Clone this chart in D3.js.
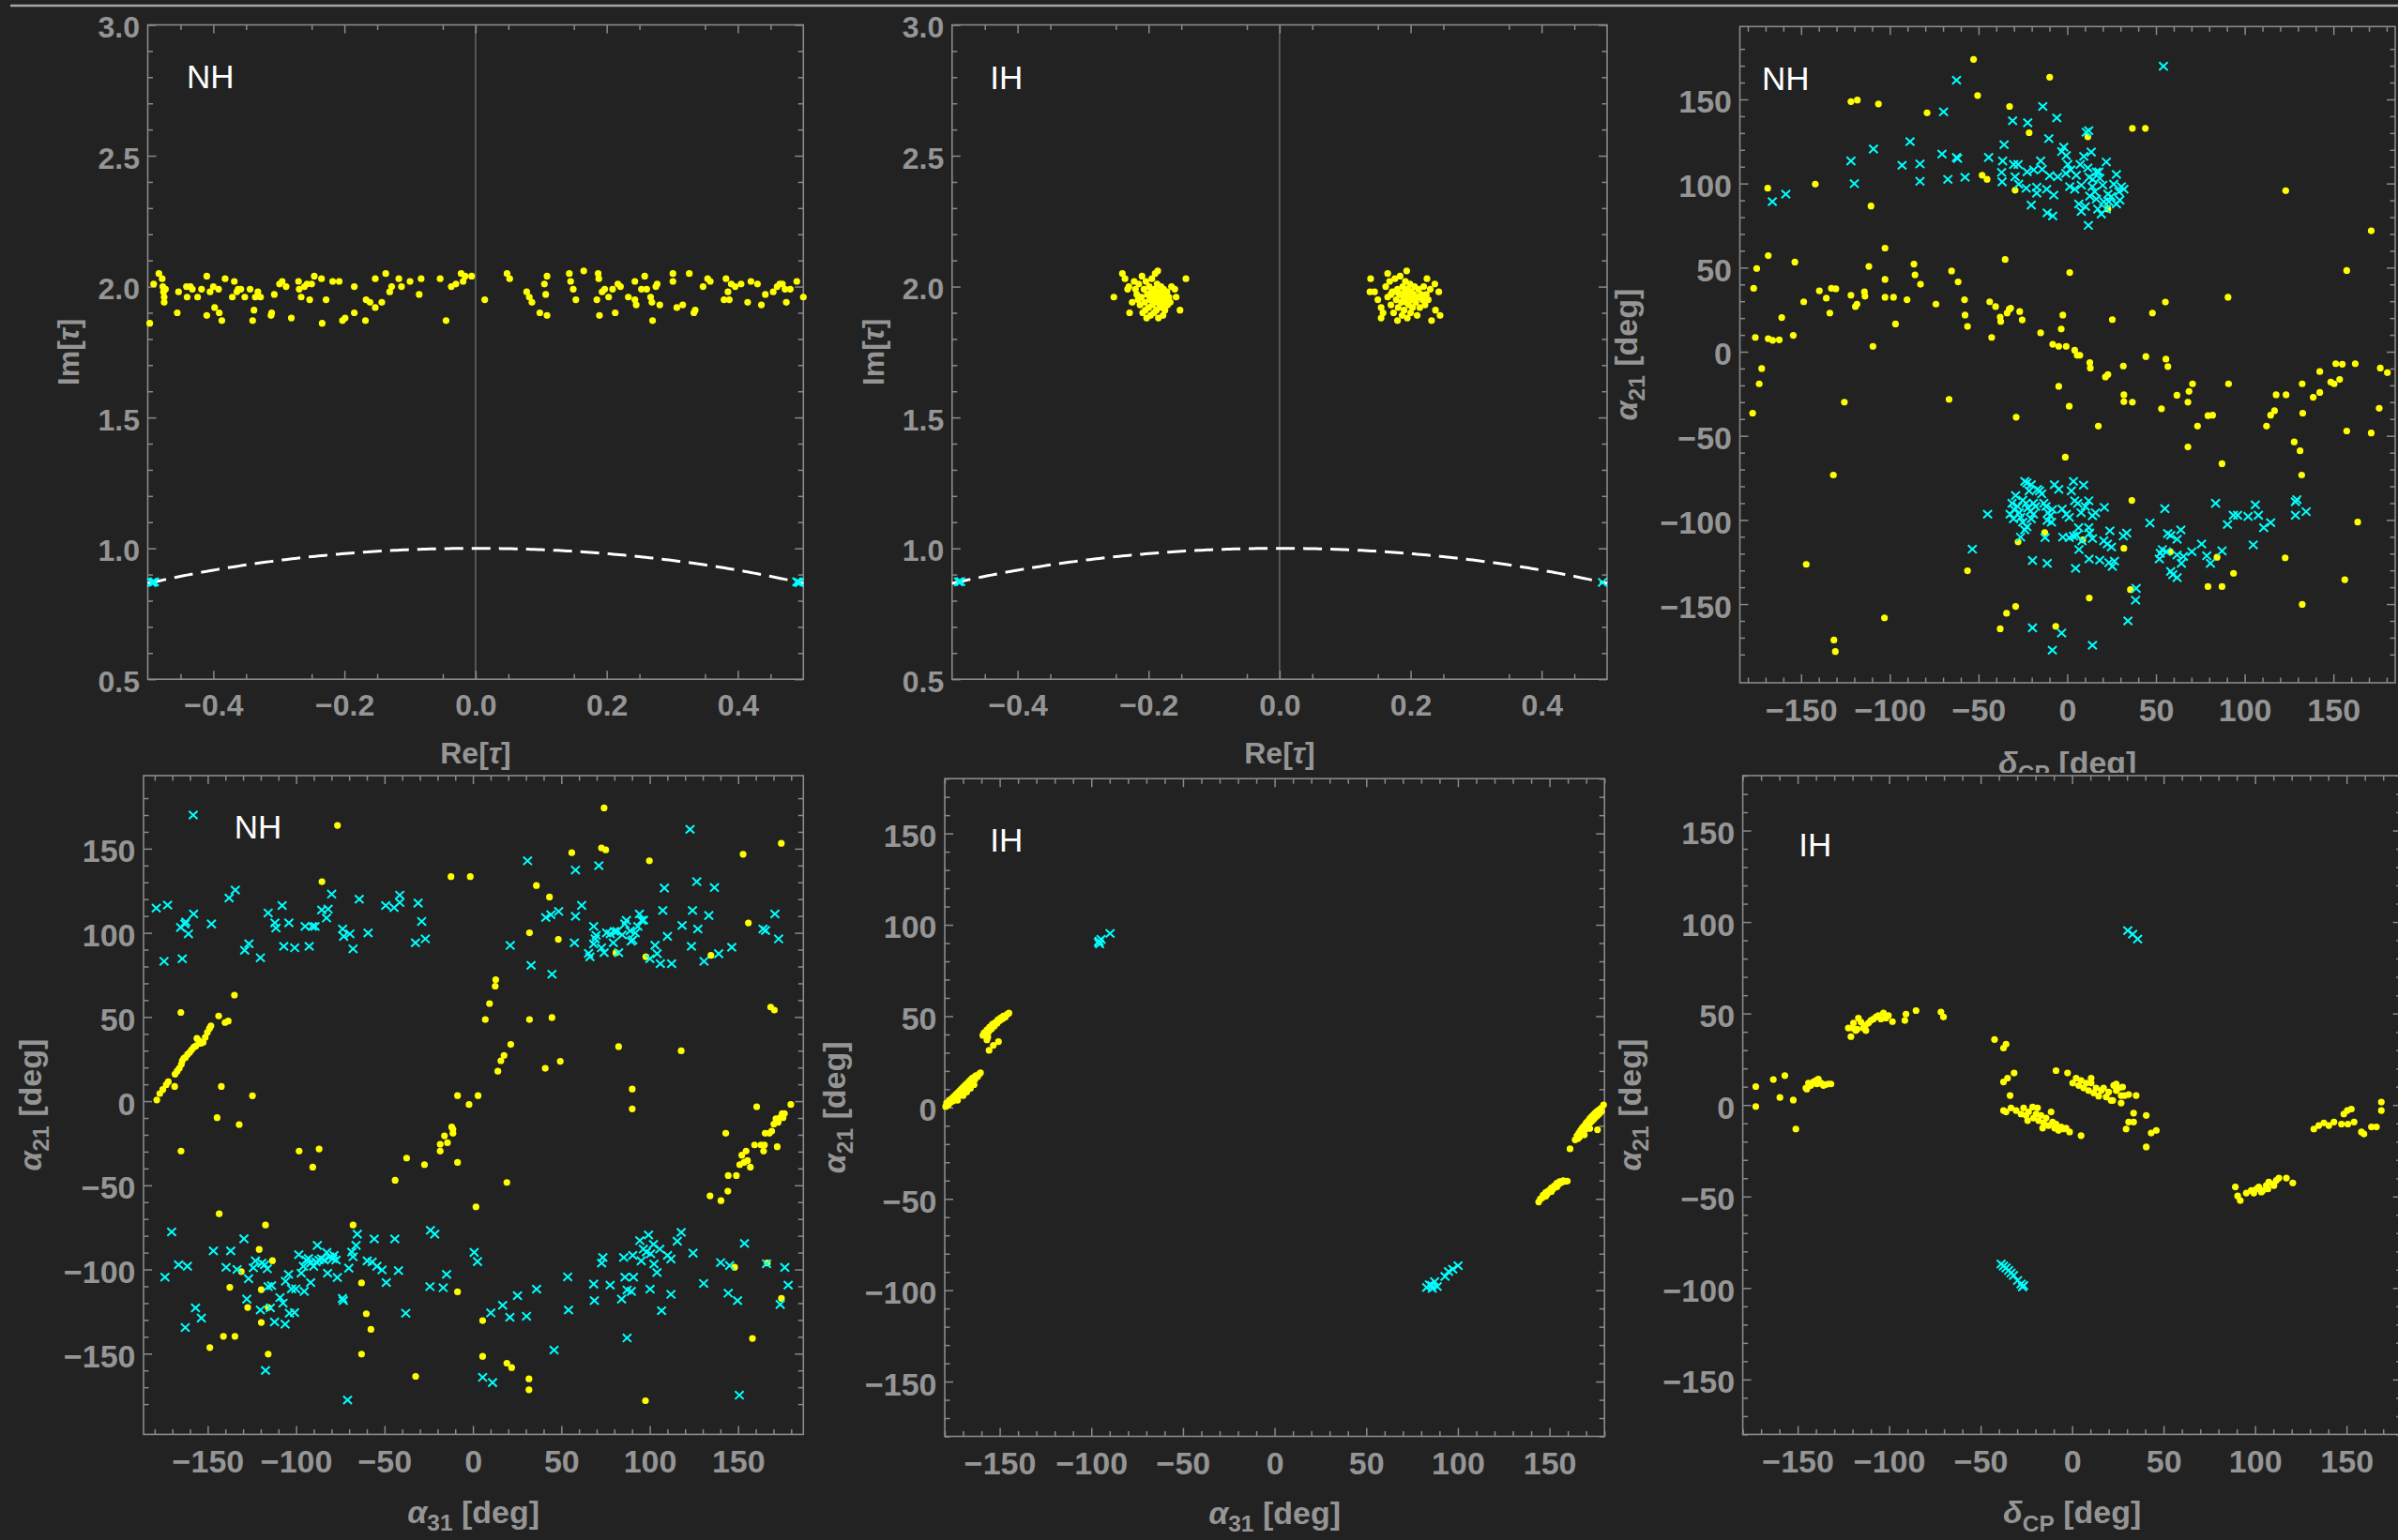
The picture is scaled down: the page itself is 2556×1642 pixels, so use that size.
<!DOCTYPE html>
<html>
<head>
<meta charset="utf-8">
<script src="https://cdn.jsdelivr.net/npm/d3@7"></script>
<style>
  html, body { margin: 0; padding: 0; background: #222222; }
  svg { display: block; }
</style>
</head>
<body>
<svg id="chart" width="2556" height="1642"></svg>
<script>
// ---------- tick values ----------
const reTauTicks = [-0.4, -0.2, 0.0, 0.2, 0.4];
const imTauTicks = [0.5, 1.0, 1.5, 2.0, 2.5, 3.0];
const degTicks = [-150, -100, -50, 0, 50, 100, 150];

// ---------- tau plane, normal hierarchy ----------
const tauNH_yellow = [
  [-0.497,1.86],[-0.491,2.01],[-0.483,2.05],[-0.478,2.03],[-0.477,2.00],[-0.476,1.98],[-0.473,1.99],[-0.475,1.96],[-0.475,1.94],
  [-0.455,1.90],[-0.453,1.98],[-0.441,2.00],[-0.435,2.00],[-0.440,1.96],[-0.432,1.99],[-0.424,1.96],[-0.418,1.99],[-0.410,2.04],
  [-0.410,1.89],[-0.405,1.98],[-0.400,2.00],[-0.392,1.99],[-0.398,1.92],[-0.391,1.90],[-0.387,1.87],[-0.382,2.03],[-0.371,1.96],
  [-0.368,2.02],[-0.364,1.98],[-0.362,1.99],[-0.358,1.99],[-0.352,1.96],[-0.344,1.99],[-0.340,1.87],[-0.338,1.91],[-0.336,1.96],
  [-0.332,1.98],[-0.328,1.96],[-0.311,1.90],[-0.312,1.89],[-0.307,1.97],[-0.299,2.01],[-0.295,2.02],[-0.289,2.00],[-0.281,1.88],
  [-0.270,2.02],[-0.269,1.99],[-0.266,1.96],[-0.261,2.00],[-0.257,2.01],[-0.253,1.95],[-0.250,2.01],[-0.246,2.04],[-0.235,2.03],
  [-0.234,1.86],[-0.228,1.95],[-0.218,2.02],[-0.208,2.02],[-0.203,1.87],[-0.199,1.88],[-0.185,1.90],[-0.185,2.00],[-0.168,1.87],
  [-0.167,1.95],[-0.161,1.94],[-0.153,1.92],[-0.153,2.03],[-0.143,1.94],[-0.137,2.05],[-0.131,1.98],[-0.128,2.00],[-0.117,2.03],
  [-0.113,2.00],[-0.100,2.02],[-0.086,1.97],[-0.083,2.03],[-0.054,2.03],[-0.045,1.87],[-0.037,2.00],[-0.030,2.01],[-0.022,2.05],
  [-0.019,2.02],[-0.016,2.04],[-0.006,2.04],[0.014,1.95],[0.048,2.05],[0.052,2.03],[0.078,1.98],[0.082,1.96],[0.086,1.94],
  [0.098,1.90],[0.105,2.01],[0.107,1.97],[0.109,1.89],[0.109,2.04],[0.143,2.05],[0.145,2.02],[0.149,1.99],[0.153,1.95],
  [0.165,2.06],[0.185,1.95],[0.187,2.05],[0.188,2.03],[0.189,1.89],[0.193,1.98],[0.197,1.99],[0.203,1.96],[0.209,1.99],
  [0.213,1.90],[0.217,2.01],[0.221,2.00],[0.233,1.96],[0.243,2.02],[0.243,1.95],[0.245,1.93],[0.253,1.99],[0.258,2.04],
  [0.261,1.99],[0.267,1.96],[0.269,1.94],[0.270,1.87],[0.275,2.00],[0.277,2.01],[0.281,1.93],[0.301,2.05],[0.301,2.02],
  [0.307,1.92],[0.316,1.93],[0.326,2.05],[0.333,1.90],[0.335,1.91],[0.347,2.00],[0.354,2.03],[0.358,2.02],[0.379,1.95],
  [0.382,2.03],[0.385,1.98],[0.387,1.95],[0.390,2.01],[0.396,2.00],[0.405,2.01],[0.415,1.94],[0.420,2.02],[0.430,2.01],
  [0.436,1.93],[0.442,1.97],[0.454,1.98],[0.460,2.00],[0.464,2.01],[0.468,2.01],[0.472,1.99],[0.474,1.94],[0.480,1.99],
  [0.490,2.02],[0.500,1.96]
];
const tauNH_cyan = [[-0.494,0.869],[-0.492,0.871],[-0.490,0.872],[0.490,0.872],[0.492,0.871],[0.494,0.869]];

// ---------- tau plane, inverted hierarchy ----------
const tauIH_yellow = [
  [-0.253,1.96],[-0.240,2.05],[-0.236,2.03],[-0.230,2.00],[-0.232,1.99],[-0.229,1.90],[-0.225,1.94],[-0.143,2.03],[-0.152,1.91],
  [-0.158,1.96],[-0.160,1.99],[-0.165,2.00],[-0.170,1.95],[-0.178,1.89],[-0.186,2.06],[-0.190,2.05],
  [-0.222,2.02],[-0.218,1.97],[-0.215,2.01],[-0.213,1.93],[-0.211,1.96],[-0.209,1.90],[-0.207,1.99],[-0.206,1.94],[-0.204,2.02],
  [-0.203,1.88],[-0.202,1.97],[-0.200,1.92],[-0.199,2.00],[-0.198,1.95],[-0.197,1.89],[-0.196,1.98],[-0.195,2.03],[-0.194,1.93],
  [-0.193,1.96],[-0.192,1.90],[-0.191,1.99],[-0.190,1.94],[-0.189,1.97],[-0.188,1.91],[-0.187,2.01],[-0.186,1.95],[-0.185,1.88],
  [-0.184,1.98],[-0.183,1.93],[-0.182,1.96],[-0.181,2.00],[-0.180,1.92],[-0.179,1.97],[-0.178,1.95],[-0.177,1.99],[-0.176,1.94],
  [-0.175,1.91],[-0.174,1.97],[-0.172,1.98],[-0.171,1.93],[-0.169,1.96],[-0.167,1.94],[-0.210,2.04],[-0.216,1.95],[-0.220,1.99],
  [-0.205,1.91],[-0.200,1.97],[-0.195,1.96],[-0.190,1.96],[-0.185,1.97],
  [0.139,2.03],[0.138,1.98],[0.145,1.98],[0.150,1.95],[0.155,1.92],[0.158,1.90],[0.165,2.05],[0.194,2.06],[0.225,2.03],
  [0.237,2.01],[0.243,1.98],[0.238,1.91],[0.245,1.89],[0.232,1.87],[0.180,1.87],[0.155,1.88],
  [0.162,2.00],[0.165,1.96],[0.168,2.02],[0.170,1.93],[0.172,1.98],[0.174,1.90],[0.176,2.03],[0.178,1.95],[0.180,1.99],
  [0.181,1.92],[0.183,1.97],[0.184,2.04],[0.186,1.94],[0.187,1.89],[0.188,2.00],[0.189,1.96],[0.190,1.91],[0.191,1.98],
  [0.192,2.02],[0.193,1.94],[0.194,1.97],[0.195,1.88],[0.196,1.99],[0.197,1.93],[0.198,1.96],[0.199,2.01],[0.200,1.90],
  [0.201,1.98],[0.202,1.95],[0.203,1.92],[0.205,1.97],[0.206,2.00],[0.208,1.94],[0.210,1.89],[0.211,1.96],[0.212,1.99],
  [0.214,1.92],[0.216,1.97],[0.218,1.95],[0.220,2.00],[0.222,1.93],[0.224,1.97],[0.227,1.95],[0.230,1.99],[0.185,1.97],
  [0.190,1.95],[0.195,1.96],[0.200,1.97],[0.176,1.98],[0.170,1.97]
];
const tauIH_cyan = [[-0.490,0.872],[-0.487,0.873],[0.493,0.870]];

// ---------- delta_CP vs alpha_21, normal hierarchy ----------
const dcpNH_yellow = [
  [-52.8,173.8],[-50.5,152.3],[-9.9,163.2],[-79.0,142.0],[-106.4,147.3],[-121.9,148.7],[-118.3,149.6],[-48.0,104.9],[-45.2,102.5],
  [-32.5,145.8],[-21.5,130.2],[11.6,127.8],[36.7,132.8],[44.0,132.8],[-29.4,96.0],[123.1,95.7],[22.9,84.8],[171.3,71.9],
  [-168.8,97.2],[-142.0,99.6],[-110.6,86.6],[-175.0,49.5],[-168.5,57.1],[-153.5,53.3],[-176.7,37.7],
  [-175.8,8.5],[-168.5,7.7],[-166.0,6.8],[-162.3,7.1],[-177.3,-36.5],[-173.6,-19.1],[-172.2,-10.0],[-160.9,20.3],[-154.4,9.7],
  [-148.5,29.7],[-139.7,36.2],[-135.8,31.8],[-133.8,23.0],[-132.9,37.7],[-130.4,37.4],[-125.6,-30.0],[-121.9,33.6],[-119.4,26.8],
  [-118.5,28.3],[-114.3,35.6],[-114.0,33.0],[-111.8,50.7],[-109.5,3.2],[-102.7,61.6],[-102.7,43.0],[-102.7,32.4],[-97.9,32.4],
  [-96.8,16.5],[-90.3,30.9],[-86.4,52.1],[-85.8,45.7],[-82.7,40.1],[-74.0,28.3],[-66.6,-28.3],[-65.2,48.0],[-61.5,41.5],
  [-57.9,30.9],[-57.6,21.8],[-56.2,15.0],[-43.7,29.7],[-42.6,8.5],[-40.4,26.8],[-37.8,20.6],[-37.5,18.0],[-35.0,54.8],
  [-33.9,23.0],[-32.7,25.3],[-31.9,25.9],[-26.8,23.9],[-25.4,18.9],[-28.8,-38.9],[-15.0,11.2],[-8.2,4.4],[-4.8,3.2],
  [-4.8,-20.6],[-3.4,13.5],[-2.5,21.8],[-0.6,3.2],[-1.1,-62.7],[1.1,-32.4],[1.4,47.1],[4.2,0.9],[5.6,-2.1],[7.1,-2.1],
  [12.7,-6.5],[13.0,-9.7],[17.5,-44.2],[21.5,-15.0],[22.9,-13.5],[25.4,19.1],[31.6,-8.5],[31.9,-25.6],[31.9,-29.7],
  [36.7,-30.0],[44.3,-2.9],[53.1,-33.9],[55.3,29.5],[55.6,-4.4],[56.7,-8.8],[48.0,23.0],[61.8,-25.9],[68.0,-30.0],
  [68.0,-56.6],[68.6,-23.6],[70.6,-19.1],[73.4,-44.2],[79.3,-38.0],[81.9,-37.7],[87.2,-66.6],[90.9,-19.1],[90.6,32.4],
  [112.3,-44.2],[114.6,-37.7],[116.8,-35.1],[117.7,-25.6],[123.3,-25.6],[127.9,-53.6],[131.2,-58.9],[132.1,-73.3],
  [132.4,-19.1],[132.7,-36.5],[138.6,-27.1],[142.3,-24.2],[142.3,-11.8],[148.5,-18.0],[150.4,-19.1],[151.3,-7.1],
  [153.5,-16.5],[155.0,-7.4],[157.5,48.3],[157.5,-47.1],[162.3,-7.1],[171.3,-48.3],[176.4,-9.7],[180.4,-12.4],[175.8,-33.6],
  [163.7,-101.3],[156.4,-135.5],[132.4,-150.2],[122.8,-122.5],[93.7,-131.7],[87.2,-139.6],[84.4,-122.2],[79.3,-139.6],
  [58.1,-119.0],[36.4,-88.4],[35.6,-141.4],[31.9,-116.9],[12.4,-146.4],[8.7,-111.9],[-6.5,-163.2],[-29.1,-151.4],
  [-34.2,-155.5],[-37.8,-164.7],[-12.7,-107.5],[-27.7,-113.1],[-56.2,-130.2],[-103.0,-158.2],[-131.5,-171.4],[-130.7,-178.2],
  [-147.1,-126.4],[-131.8,-73.3]
];
const dcpNH_cyan = [
  [-62.4,161.4],[-69.7,142.6],[-88.6,124.9],[-109.2,120.5],[-121.9,113.4],[-120.0,99.9],[-93.1,110.8],[-83.0,111.6],[-83.0,101.3],
  [-70.6,117.5],[-67.3,102.5],[-62.4,115.5],[-61.8,114.9],[-57.6,103.7],[-44.3,115.5],[-36.4,113.4],[-37.0,106.6],[-35.6,123.1],
  [-30.8,137.3],[-22.3,136.1],[-13.8,145.8],[-5.9,139.0],[-10.4,126.7],[-29.4,104.0],[-30.2,111.3],[-27.7,111.3],[-22.6,106.9],
  [-18.9,108.1],[-15.0,113.4],[-14.1,108.4],[-9.9,104.6],[-17.2,97.8],[-17.2,94.3],[-20.3,87.2],[-11.6,96.6],[-11.3,82.5],
  [-8.2,80.7],[-36.7,101.0],[-27.4,99.6],[-23.1,97.2],[-7.6,93.1],[-5.4,104.0],[-3.1,119.0],[-2.0,121.6],[-0.6,116.6],
  [0.3,111.3],[2.0,108.1],[-0.8,106.0],[1.4,98.1],[5.1,104.9],[7.3,111.3],[9.3,116.1],[11.6,109.3],[12.4,103.7],[7.9,99.0],
  [4.2,96.6],[13.5,118.7],[10.7,130.5],[12.1,131.4],[14.1,98.1],[15.5,95.1],[16.4,90.7],[6.5,87.8],[7.9,83.4],[10.2,86.3],
  [11.9,75.1],[12.7,92.5],[14.4,102.5],[17.8,106.9],[20.0,99.0],[22.0,112.8],[22.9,93.7],[23.4,89.2],[24.8,92.2],[26.2,99.6],
  [27.7,105.4],[29.1,95.1],[30.5,98.1],[31.9,96.6],[17.2,84.8],[19.2,81.9],[22.0,84.8],[20.6,89.2],[29.6,90.1],[27.7,87.8],
  [16.4,106.9],[18.3,103.1],[-158.6,93.7],[-166.2,89.2],[54.2,169.7],
  [-44.9,-96.6],[-53.5,-117.4],[-29.1,-85.5],[-31.1,-90.1],[-29.9,-93.8],[-32.2,-96.6],[-30.3,-99.4],[-28.0,-92.0],[-27.0,-95.7],
  [-26.3,-98.5],[-25.1,-88.3],[-23.9,-77.1],[-22.7,-78.0],[-21.5,-82.7],[-20.3,-79.0],[-23.2,-90.1],[-22.2,-92.9],[-20.8,-94.8],
  [-19.1,-90.1],[-17.9,-92.0],[-16.8,-81.8],[-15.6,-82.7],[-14.4,-84.5],[-13.2,-90.1],[-12.0,-92.0],[-20.3,-99.4],[-19.1,-96.6],
  [-25.1,-101.3],[-22.7,-104.1],[-23.9,-105.9],[-26.3,-110.2],[-10.8,-95.7],[-9.6,-97.5],[-8.4,-93.8],[-8.9,-101.3],[-11.3,-100.3],
  [-7.2,-79.0],[-4.8,-81.8],[-12.5,-110.5],[-19.6,-124.1],[-11.3,-125.8],[-2.9,-93.5],[-0.5,-96.6],[1.1,-98.5],[2.3,-82.7],
  [3.5,-77.1],[4.2,-88.6],[5.9,-90.1],[7.8,-95.7],[9.2,-79.3],[12.1,-88.6],[10.2,-92.0],[14.2,-97.5],[15.9,-95.7],[20.9,-92.5],
  [-2.5,-110.2],[1.1,-110.5],[3.5,-109.6],[5.4,-109.1],[6.4,-104.6],[8.3,-112.4],[6.6,-117.6],[12.1,-104.6],[12.6,-107.8],
  [14.2,-111.1],[12.3,-123.2],[18.3,-123.9],[4.7,-128.8],[20.6,-112.4],[22.6,-114.3],[24.0,-106.5],[24.9,-116.1],[23.5,-125.4],
  [25.4,-127.6],[26.6,-124.5],[31.6,-109.6],[33.5,-107.8],[46.6,-101.8],[55.0,-93.3],[56.6,-108.1],[58.3,-109.1],[61.9,-111.5],
  [64.0,-105.9],[52.4,-119.8],[53.6,-117.6],[55.9,-118.9],[51.9,-123.2],[61.9,-120.8],[65.5,-121.7],[64.3,-125.8],[70.2,-118.9],
  [75.7,-114.3],[78.6,-121.3],[80.7,-125.8],[87.2,-118.4],[58.3,-130.6],[59.5,-132.5],[61.9,-134.3],[38.8,-140.7],[38.5,-147.7],
  [34.2,-160.0],[14.2,-174.5],[-3.2,-167.2],[-8.4,-177.4],[-19.6,-164.1],[83.6,-90.1],[90.3,-102.7],[93.6,-97.2],[96.0,-97.2],
  [101.9,-97.9],[106.0,-91.0],[107.7,-97.2],[110.7,-104.6],[114.6,-101.6],[104.8,-114.8],[128.6,-89.2],[128.6,-97.2],
  [129.4,-87.9],[134.6,-95.1]
];

// ---------- alpha_31 vs alpha_21, normal hierarchy ----------
const a31NH_yellow = [
  [-168.5,16.0],[-167.3,17.8],[-166.1,19.5],[-164.9,21.9],[-164.4,24.0],[-163.5,25.5],[-162.6,26.0],[-161.4,27.8],[-160.2,29.0],
  [-159.1,30.5],[-157.9,32.0],[-156.7,32.8],[-156.1,37.3],[-154.9,35.8],[-154.0,34.3],[-152.6,34.9],[-151.4,37.9],[-150.2,40.8],
  [-149.0,43.2],[-148.2,44.7],[-165.2,52.7],[-143.8,50.6],[-140.2,46.7],[-138.4,47.6],[-134.9,63.0],[-85.4,130.4],[-76.6,163.8],
  [-12.4,133.4],[-1.5,133.4],[7.0,48.5],[9.4,58.0],[12.9,72.2],[12.6,68.3],[14.1,17.8],[15.8,24.0],[17.6,27.2],[21.4,33.7],
  [32.0,48.5],[32.0,100.0],[35.9,128.1],[40.9,19.5],[43.3,121.3],[44.7,49.7],[48.3,96.1],[49.4,23.7],[55.9,147.6],
  [74.2,174.2],[72.7,150.5],[75.1,149.3],[80.9,88.1],[82.4,32.4],[97.8,85.8],[99.8,142.8],[117.8,29.9],[152.8,146.7],
  [155.8,105.9],[168.4,55.9],[170.5,54.1],[174.4,153.2],[134.6,86.6],
  [-178.8,0.7],[-177.1,4.5],[-175.4,6.9],[-173.5,9.7],[-172.3,11.5],[-168.7,8.7],[-142.3,8.7],[-124.7,3.2],[-144.7,-9.8],
  [-132.2,-13.9],[-165.1,-29.7],[-98.3,-29.7],[-87.0,-28.4],[-90.6,-39.2],[-143.5,-66.9],[-117.3,-73.6],[-120.9,-88.1],
  [-113.4,-94.8],[-131.0,-101.3],[-137.5,-110.6],[-119.7,-112.0],[-127.4,-122.6],[-115.8,-122.6],[-119.7,-131.5],[-141.1,-139.7],
  [-134.6,-139.7],[-148.8,-146.4],[-115.8,-150.3],[-67.8,-73.6],[-63.0,-108.0],[-60.3,-126.3],[-57.7,-135.6],[-63.0,-150.3],
  [-32.4,-163.5],[-44.0,-47.0],[-37.5,-33.8],[-27.4,-37.7],[-18.5,-29.7],[-18.5,-25.6],[-16.1,-20.6],[-14.4,-24.7],[-12.0,-15.4],
  [-11.3,-16.7],[-11.3,-19.1],[-8.7,3.3],[-2.2,-2.0],[2.9,3.3],[-8.7,-36.4],[-8.7,-113.3],[1.7,-62.8],[19.2,-48.3],[5.5,-130.4],
  [5.5,-151.6],[19.2,-155.7],[21.9,-158.3],[31.7,-165.0],[31.7,-171.5],[90.1,7.2],[90.1,-4.6],[97.6,-178.0],[134.1,-56.3],
  [140.3,-59.1],[144.2,-53.5],[143.0,-19.1],[144.4,-44.2],[149.0,-44.2],[150.9,-37.7],[152.1,-32.1],[154.5,-29.7],[153.3,-36.4],
  [155.3,-35.3],[156.9,-39.2],[159.3,-26.0],[162.9,-26.0],[164.9,-26.0],[164.4,-29.7],[165.3,-19.1],[167.7,-19.1],[169.0,-17.8],
  [170.2,-13.6],[171.4,-10.4],[172.6,-12.6],[173.8,-9.8],[174.9,-7.4],[176.2,-7.4],[175.4,-9.8],[172.1,-27.1],[160.5,-3.3],
  [179.8,-2.0],[148.0,-98.7],[158.1,-141.0],[166.5,-96.2],[174.5,-117.2]
];
const a31NH_cyan = [
  [-179.1,114.7],[-174.7,83.1],[-172.7,116.5],[-165.3,103.2],[-162.9,105.3],[-162.4,106.5],[-160.9,99.4],[-158.0,111.2],
  [-164.4,84.6],[-147.9,105.3],[-137.9,120.7],[-134.4,125.4],[-129.1,89.6],[-126.7,93.5],[-120.2,85.2],[-115.8,111.8],
  [-111.4,102.9],[-112.0,105.9],[-107.9,116.2],[-107.0,92.0],[-104.1,105.9],[-100.8,91.1],[-94.9,103.8],[-92.6,92.0],
  [-90.8,103.8],[-89.3,103.8],[-85.5,113.6],[-82.8,108.8],[-81.9,114.1],[-79.9,123.0],[-73.7,102.3],[-73.1,97.9],[-69.6,99.4],
  [-67.8,90.5],[-64.3,120.0],[-59.3,99.9],[-49.3,116.2],[-44.6,115.0],[-41.4,118.0],[-41.4,122.4],[-31.0,117.7],[-29.0,106.8],
  [-32.5,94.1],[-26.9,96.4],[21.1,92.5],[30.9,142.8],[32.9,80.7],[41.2,109.1],[44.1,110.8],[44.7,75.4],[48.5,112.7],[57.4,94.1],
  [58.0,109.8],[58.0,137.3],[61.5,116.3],[65.4,87.8],[66.2,85.7],[68.3,93.4],[69.2,96.4],[69.7,98.5],[71.2,139.9],[72.7,91.1],
  [68.3,103.8],[74.2,88.2],[75.6,100.0],[77.7,99.4],[79.4,94.1],[80.0,100.9],[81.5,100.9],[82.4,88.2],[84.4,98.8],[85.9,105.3],
  [86.8,107.4],[88.9,101.2],[89.5,95.0],[90.4,95.8],[91.8,99.9],[93.3,103.8],[94.2,111.2],[95.4,107.4],[96.5,107.6],[100.1,84.6],
  [103.0,92.6],[104.2,87.6],[106.0,81.7],[107.4,113.3],[108.3,126.6],[110.0,97.9],[112.4,81.7],[118.3,104.4],[122.8,161.5],
  [124.2,113.3],[126.6,130.4],[123.6,92.0],[127.2,102.3],[133.4,110.3],[136.6,126.9],[130.7,83.1],[139.0,87.6],[146.4,91.4],
  [164.1,102.3],[165.5,101.4],[170.8,111.2],[172.9,96.4],[-158.2,170.0],
  [-174.2,-104.6],[-170.4,-77.7],[-166.5,-97.2],[-161.5,-98.1],[-156.9,-122.8],[-153.6,-128.9],[-162.7,-134.5],[-146.8,-89.0],
  [-137.0,-89.0],[-129.5,-81.8],[-139.6,-98.7],[-133.4,-100.0],[-126.9,-105.5],[-127.9,-117.6],[-124.2,-99.0],[-123.0,-94.9],
  [-119.4,-96.2],[-117.8,-97.2],[-116.3,-99.6],[-115.8,-110.2],[-113.9,-109.6],[-120.2,-124.1],[-114.6,-122.8],[-112.2,-131.2],
  [-106.2,-132.5],[-109.1,-116.7],[-107.4,-120.0],[-104.3,-102.9],[-106.0,-107.0],[-102.6,-111.5],[-100.2,-111.5],[-103.8,-126.0],
  [-100.9,-125.6],[-98.5,-91.2],[-97.1,-102.2],[-95.9,-98.1],[-94.2,-94.4],[-93.0,-93.5],[-91.8,-96.2],[-90.1,-98.1],[-88.7,-95.5],
  [-87.0,-94.4],[-85.6,-93.6],[-84.1,-94.4],[-82.7,-89.9],[-81.0,-92.5],[-79.3,-93.5],[-78.6,-91.6],[-77.4,-94.4],[-88.0,-85.7],
  [-82.2,-102.2],[-76.7,-104.8],[-95.4,-113.0],[-91.8,-107.8],[-73.8,-117.2],[-73.3,-118.5],[-70.2,-99.2],[-68.5,-89.7],
  [-67.8,-92.5],[-66.1,-85.7],[-65.4,-79.0],[-59.8,-94.9],[-57.0,-95.5],[-55.8,-81.9],[-54.3,-98.1],[-51.4,-100.3],[-49.0,-107.8],
  [-44.2,-81.9],[-42.1,-100.7],[-38.0,-126.0],[-24.0,-76.7],[-21.6,-79.0],[-24.3,-110.2],[-16.8,-110.9],[-14.9,-102.9],
  [0.7,-89.9],[2.6,-95.3],[5.5,-164.1],[11.1,-167.2],[10.1,-125.8],[16.8,-121.3],[20.9,-128.4],[25.2,-115.6],[30.3,-127.8],
  [36.0,-111.7],[45.9,-147.9],[53.6,-104.4],[54.1,-124.1],[68.3,-108.7],[68.7,-118.5],[72.8,-96.2],[73.5,-92.9],[77.6,-109.3],
  [84.1,-117.6],[85.3,-92.9],[86.0,-104.6],[87.2,-112.2],[87.2,-140.7],[90.8,-104.6],[90.4,-91.6],[89.6,-113.0],[94.4,-82.9],
  [95.2,-94.9],[96.4,-87.9],[98.1,-89.7],[99.3,-79.5],[100.5,-90.7],[100.2,-111.7],[102.1,-85.1],[102.4,-96.8],[104.1,-101.8],
  [105.7,-87.9],[106.7,-124.5],[110.1,-91.6],[112.0,-93.8],[112.0,-114.8],[115.6,-83.2],[117.8,-78.0],[124.5,-90.3],
  [130.5,-108.3],[140.1,-95.9],[144.4,-114.1],[145.2,-97.7],[149.7,-118.5],[150.7,-174.7],[153.6,-84.5],[166.1,-96.6],
  [173.8,-120.8],[176.4,-98.8],[178.3,-109.3],[-70.9,-177.6],[-117.3,-160.0]
];

// ---------- alpha_31 vs alpha_21, inverted hierarchy ----------
const a31IH_yellow = [
  [-179.5,0.5],[-179.0,2.5],[-178.0,1.5],[-177.5,4.0],[-177.0,2.8],[-176.0,5.0],[-175.5,3.5],[-175.0,6.0],[-174.5,4.5],
  [-174.0,7.0],[-173.5,5.5],[-173.0,8.0],[-172.5,6.5],[-172.0,9.0],[-171.5,7.5],[-171.0,10.0],[-170.5,8.5],[-170.0,11.0],
  [-169.5,9.5],[-169.0,12.0],[-168.5,10.5],[-168.0,13.0],[-167.5,11.5],[-167.0,14.0],[-166.5,12.5],[-166.0,15.0],[-165.5,13.5],
  [-165.0,16.0],[-164.5,14.5],[-164.0,16.5],[-163.5,15.5],[-163.0,17.5],[-162.0,17.0],[-161.0,18.5],[-160.5,19.0],[-170.0,6.5],
  [-168.0,8.5],[-173.0,4.0],[-166.0,10.5],[-164.0,12.5],
  [-159.2,39.5],[-158.5,41.0],[-157.5,40.0],[-157.0,42.5],[-156.0,41.5],[-155.5,44.0],[-154.5,43.0],[-154.0,45.5],[-153.0,44.5],
  [-152.5,46.5],[-151.5,46.0],[-151.0,48.0],[-150.0,47.5],[-149.5,49.0],[-148.5,48.5],[-148.0,50.0],[-147.0,49.5],[-146.0,51.0],
  [-145.0,51.7],[-157.0,37.0],[-155.8,31.3],[-153.5,34.0],[-150.7,36.0],[-156.5,38.5],
  [144.1,-51.7],[145.0,-50.0],[146.0,-49.5],[146.5,-48.0],[147.5,-47.5],[148.0,-46.5],[149.0,-47.0],[149.5,-45.5],[150.5,-45.0],
  [151.0,-44.0],[152.0,-44.5],[152.5,-43.0],[153.5,-42.5],[154.0,-41.5],[155.0,-42.0],[155.5,-40.5],[156.5,-41.0],[157.5,-40.0],
  [158.5,-40.5],[159.7,-40.3],[151.0,-46.0],[154.0,-43.5],[148.0,-48.5],
  [164.0,-17.7],[165.0,-15.5],[165.5,-17.0],[166.0,-14.0],[166.5,-16.0],[167.0,-12.5],[167.5,-14.5],[168.0,-11.0],[168.5,-13.0],
  [169.0,-10.0],[169.5,-12.0],[170.0,-8.5],[170.5,-10.5],[171.0,-7.5],[171.5,-9.0],[172.0,-6.0],[172.5,-8.0],[173.0,-5.0],
  [173.5,-7.0],[174.0,-4.0],[174.5,-6.0],[175.0,-3.0],[175.5,-5.0],[176.0,-2.0],[176.5,-4.0],[177.0,-1.5],[177.5,-3.0],
  [178.0,-0.5],[178.5,-2.0],[179.5,1.4],[161.2,-22.6],[176.2,-12.2],[169.0,-15.0],[172.0,-11.5]
];
const a31IH_cyan = [
  [-96.1,90.4],[-95.5,89.5],[-94.7,92.0],[-95.8,91.0],[-89.8,95.3],
  [83.0,-98.5],[84.5,-97.0],[85.8,-97.4],[87.3,-95.3],[88.7,-98.0],[93.0,-92.5],[94.9,-89.8],[97.2,-88.5],[100.1,-86.6],[86.0,-99.0]
];

// ---------- delta_CP vs alpha_21, inverted hierarchy ----------
const dcpIH_yellow = [
  [-172.9,10.1],[-172.9,-0.8],[-163.3,13.9],[-157.0,16.1],[-159.7,4.1],[-152.4,2.7],[-151.0,-13.1],
  [-145.5,9.3],[-144.1,12.0],[-142.8,10.7],[-141.4,12.6],[-140.0,13.4],[-138.7,14.2],[-137.3,12.0],[-135.9,10.7],[-134.6,11.2],
  [-133.2,11.5],[-131.8,11.5],[-145.0,8.7],[-143.5,11.0],[-139.5,11.5],[-136.5,11.5],
  [-122.3,42.1],[-120.9,37.4],[-119.5,44.8],[-118.2,40.7],[-116.8,47.5],[-114.1,42.1],[-112.7,40.7],[-111.3,44.8],[-110.0,46.2],
  [-108.6,47.0],[-105.9,48.9],[-103.1,50.3],[-101.8,47.5],[-100.4,48.9],[-98.2,45.6],[-91.4,46.2],[-90.8,49.7],[-85.3,51.6],
  [-71.7,50.8],[-70.3,48.1],[-120.1,42.1],[-115.4,45.3],[-107.2,48.1],[-104.5,47.0],[-117.5,41.5],[-113.0,43.5],
  [-42.4,35.8],[-37.5,31.1],[-36.1,33.3],[-37.5,12.6],[-35.3,14.7],[-31.7,17.5],[-33.9,5.2],[-37.5,-3.0],
  [-36.1,-3.8],[-33.4,-1.6],[-30.6,-3.0],[-27.9,-4.9],[-26.5,-1.6],[-25.2,-5.7],[-23.8,-3.8],[-21.6,-1.1],[-21.1,-7.1],
  [-19.7,-4.9],[-18.3,-8.5],[-17.0,-5.7],[-15.6,-9.8],[-14.2,-7.1],[-12.9,-11.2],[-11.5,-3.8],[-10.7,-9.3],[-9.6,-12.6],
  [-8.8,-10.4],[-7.4,-13.9],[-6.0,-12.0],[-4.6,-13.1],[-3.3,-12.6],[-1.4,-14.7],[4.9,-16.7],[-24.3,-8.5],[-16.1,-12.6],[-18.9,-1.6],
  [-8.8,18.8],[-2.5,17.5],[0.3,12.0],[2.2,14.7],[3.6,10.7],[4.9,13.4],[6.3,9.3],[7.7,12.0],[9.0,7.9],[10.4,14.7],[11.8,6.6],
  [13.1,9.3],[14.5,4.9],[15.9,7.9],[17.2,9.3],[18.6,4.4],[20.0,7.1],[21.3,2.5],[22.7,10.7],[24.1,7.9],[25.4,9.3],[26.8,5.2],
  [27.6,9.8],[28.7,5.2],[30.9,5.7],[35.0,5.2],[26.8,1.1],[22.2,2.5],[33.6,-4.4],[40.5,-5.7],[29.5,-13.1],[30.9,-9.3],[33.6,-9.3],
  [40.5,-22.9],[43.2,-15.3],[46.0,-13.9],[10.4,12.0],[24.1,11.5],
  [89.2,-44.8],[90.5,-49.7],[91.9,-52.2],[95.2,-48.1],[97.9,-46.7],[100.7,-45.9],[102.0,-44.8],[104.2,-46.7],[106.1,-44.0],
  [107.5,-42.1],[109.7,-43.2],[111.6,-41.2],[113.0,-39.9],[117.1,-39.9],[120.6,-42.6],[99.3,-48.1],[103.4,-47.5],[107.0,-45.9],
  [110.3,-44.0],
  [132.1,-13.1],[134.8,-11.2],[137.6,-9.8],[140.3,-11.2],[143.1,-9.3],[147.2,-10.4],[148.5,-4.9],[150.4,-3.0],[152.6,-2.2],
  [150.7,-10.4],[154.1,-9.3],[158.1,-14.7],[159.5,-15.8],[163.6,-12.0],[166.3,-12.0],[169.0,1.6],[169.0,-3.0]
];
const dcpIH_cyan = [
  [30.4,95.3],[33.1,93.4],[35.8,90.7],
  [-38.8,-86.9],[-37.5,-88.0],[-36.1,-89.0],[-34.7,-90.4],[-33.4,-91.8],[-32.0,-93.1],[-29.8,-95.9],[-27.9,-97.8],[-27.1,-99.4],[-26.5,-98.6]
];

// ---------- styling ----------
const BG = "#222222";
const FRAME = "#8a8a8a";
const LABEL = "#959595";
const YELLOW = "#ffff00";
const CYAN = "#00ffff";
const FONT = "'Liberation Sans', Arial, Helvetica, sans-serif";

// axis title pieces: [text, style] where style is "" | "i" (italic) | "sub"
const titleRe = [["Re[", ""], ["τ", "i"], ["]", ""]];
const titleIm = [["Im[", ""], ["τ", "i"], ["]", ""]];
const titleDcp = [["δ", "i"], ["CP", "sub"], [" [deg]", ""]];
const titleA21 = [["α", "i"], ["21", "sub"], [" [deg]", ""]];
const titleA31 = [["α", "i"], ["31", "sub"], [" [deg]", ""]];

// panel layout: frame = [left, top, right, bottom]
const panels = [
  { kind: "tau", tag: "NH", frame: [157.5, 26.5, 856.3, 724.2], xDom: [-0.5, 0.5], yDom: [0.5, 3.0],
    yellow: tauNH_yellow, cyan: tauNH_cyan, xTitle: titleRe, yTitle: titleIm,
    tagOff: [41.5, 67.5], xTitleOff: 90, yTitleOff: -73.5, font: 32 },
  { kind: "tau", tag: "IH", frame: [1014.8, 26.5, 1713.0, 724.2], xDom: [-0.5, 0.5], yDom: [0.5, 3.0],
    yellow: tauIH_yellow, cyan: tauIH_cyan, xTitle: titleRe, yTitle: titleIm,
    tagOff: [40.5, 68.5], xTitleOff: 90, yTitleOff: -73, font: 32 },
  { kind: "deg", tag: "NH", frame: [1854.5, 28.3, 2553.0, 728.0], xDom: [-184.5, 184.8], yDom: [-196.8, 193.3],
    yellow: dcpNH_yellow, cyan: dcpNH_cyan, xTitle: titleDcp, yTitle: titleA21,
    tagOff: [23.5, 67.7], xTitleOff: 97, yTitleOff: -110, font: 34 },
  { kind: "deg", tag: "NH", frame: [153.0, 827.0, 856.3, 1529.4], xDom: [-186.3, 186.9], yDom: [-198.0, 193.4],
    yellow: a31NH_yellow, cyan: a31NH_cyan, xTitle: titleA31, yTitle: titleA21,
    tagOff: [96.7, 66.8], xTitleOff: 94.5, yTitleOff: -109, font: 34 },
  { kind: "deg", tag: "IH", frame: [1007.0, 830.2, 1710.2, 1531.5], xDom: [-180, 180], yDom: [-180, 180],
    yellow: a31IH_yellow, cyan: a31IH_cyan, xTitle: titleA31, yTitle: titleA21,
    tagOff: [48.3, 77.8], xTitleOff: 93.5, yTitleOff: -106.5, font: 34 },
  { kind: "deg", tag: "IH", frame: [1857.6, 827.0, 2559.7, 1529.4], xDom: [-180, 180], yDom: [-180, 180],
    yellow: dcpIH_yellow, cyan: dcpIH_cyan, xTitle: titleDcp, yTitle: titleA21,
    tagOff: [59.7, 86.4], xTitleOff: 95, yTitleOff: -109, font: 34 }
];

const svg = d3.select("#chart");
svg.append("rect").attr("width", 2556).attr("height", 1642).attr("fill", BG);

// thin rule across the top of the figure
svg.append("line").attr("x1", 11).attr("x2", 2556).attr("y1", 6).attr("y2", 6)
  .attr("stroke", "#a8a8a8").attr("stroke-width", 2.5);

function writeTitle(textSel, pieces, fs) {
  pieces.forEach(([t, style], i) => {
    const ts = textSel.append("tspan").text(t);
    if (style === "i") ts.attr("font-style", "italic");
    if (style === "sub") ts.attr("font-size", fs * 0.72).attr("dy", fs * 0.24);
    if (i > 0 && pieces[i - 1][1] === "sub") ts.attr("dy", -fs * 0.24);
  });
}

function styleAxis(g, fs) {
  g.select(".domain").remove();
  g.attr("font-family", FONT).attr("font-size", fs).attr("font-weight", "bold");
  g.selectAll(".tick line").attr("stroke", FRAME).attr("stroke-width", 1.5);
  g.selectAll(".tick text").attr("fill", LABEL);
}

function drawPanel(p) {
  const [l, t, r, b] = p.frame;
  const fs = p.font;
  const x = d3.scaleLinear().domain(p.xDom).range([l, r]);
  const y = d3.scaleLinear().domain(p.yDom).range([b, t]);
  const g = svg.append("g");

  let xMajor, yMajor, xMinor, yMinor, fmt;
  if (p.kind === "tau") {
    xMajor = reTauTicks; yMajor = imTauTicks;
    xMinor = d3.range(-10, 11).map(k => k * 0.05).filter(v => Math.abs(Math.round(v * 10) - v * 10) > 1e-6);
    yMinor = d3.range(5, 31).map(k => k / 10).filter(v => Math.abs(v * 2 - Math.round(v * 2)) > 1e-6);
    fmt = d3.format(".1f");
  } else {
    xMajor = degTicks; yMajor = degTicks;
    xMinor = d3.range(-18, 19).map(k => k * 10).filter(v => v % 50 !== 0);
    yMinor = xMinor;
    fmt = d3.format("d");
  }
  xMinor = xMinor.filter(v => v >= p.xDom[0] - 1e-9 && v <= p.xDom[1] + 1e-9);
  yMinor = yMinor.filter(v => v >= p.yDom[0] - 1e-9 && v <= p.yDom[1] + 1e-9);

  // zero line for the tau plane
  if (p.kind === "tau") {
    g.append("line").attr("x1", x(0)).attr("x2", x(0)).attr("y1", t).attr("y2", b)
      .attr("stroke", "#6f6f6f").attr("stroke-width", 1.3);
  }

  // frame
  g.append("rect").attr("x", l).attr("y", t).attr("width", r - l).attr("height", b - t)
    .attr("fill", "none").attr("stroke", FRAME).attr("stroke-width", 1.6);

  const MAJ = 9, MIN = 5.5;
  // bottom axis with labels
  g.append("g").attr("transform", `translate(0,${b})`)
    .call(d3.axisBottom(x).tickValues(xMajor).tickSize(-MAJ).tickPadding(16.5).tickFormat(fmt))
    .call(a => styleAxis(a, fs));
  g.append("g").attr("transform", `translate(0,${b})`)
    .call(d3.axisBottom(x).tickValues(xMinor).tickSize(-MIN).tickFormat(""))
    .call(a => styleAxis(a, fs));
  // top axis, ticks only
  g.append("g").attr("transform", `translate(0,${t})`)
    .call(d3.axisTop(x).tickValues(xMajor).tickSize(-MAJ).tickFormat(""))
    .call(a => styleAxis(a, fs));
  g.append("g").attr("transform", `translate(0,${t})`)
    .call(d3.axisTop(x).tickValues(xMinor).tickSize(-MIN).tickFormat(""))
    .call(a => styleAxis(a, fs));
  // left axis with labels
  g.append("g").attr("transform", `translate(${l},0)`)
    .call(d3.axisLeft(y).tickValues(yMajor).tickSize(-MAJ).tickPadding(8.5).tickFormat(fmt))
    .call(a => styleAxis(a, fs))
    .call(a => a.selectAll(".tick text").attr("dy", "0.41em"));
  g.append("g").attr("transform", `translate(${l},0)`)
    .call(d3.axisLeft(y).tickValues(yMinor).tickSize(-MIN).tickFormat(""))
    .call(a => styleAxis(a, fs));
  // right axis, ticks only
  g.append("g").attr("transform", `translate(${r},0)`)
    .call(d3.axisRight(y).tickValues(yMajor).tickSize(-MAJ).tickFormat(""))
    .call(a => styleAxis(a, fs));
  g.append("g").attr("transform", `translate(${r},0)`)
    .call(d3.axisRight(y).tickValues(yMinor).tickSize(-MIN).tickFormat(""))
    .call(a => styleAxis(a, fs));

  // |tau| = 1 boundary of the fundamental domain
  if (p.kind === "tau") {
    const arc = d3.range(0, 201).map(k => -0.5 + k / 200).map(v => [v, Math.sqrt(1 - v * v)]);
    g.append("path").datum(arc)
      .attr("d", d3.line().x(d => x(d[0])).y(d => y(d[1])))
      .attr("fill", "none").attr("stroke", "#ffffff").attr("stroke-width", 3)
      .attr("stroke-dasharray", "20,9");
  }

  // points
  g.append("g").selectAll("circle").data(p.yellow).join("circle")
    .attr("cx", d => x(d[0])).attr("cy", d => y(d[1])).attr("r", 3.6).attr("fill", YELLOW);
  g.append("g").selectAll("path").data(p.cyan).join("path")
    .attr("transform", d => `translate(${x(d[0])},${y(d[1])})`)
    .attr("d", "M-4.6,-4.3L4.6,4.3M-4.6,4.3L4.6,-4.3")
    .attr("stroke", CYAN).attr("stroke-width", 2).attr("fill", "none");

  // hierarchy tag
  g.append("text").attr("x", l + p.tagOff[0]).attr("y", t + p.tagOff[1])
    .attr("font-family", FONT).attr("font-size", 35).attr("fill", "#ffffff").text(p.tag);

  // axis titles
  const xt = g.append("text").attr("x", (l + r) / 2).attr("y", b + p.xTitleOff)
    .attr("text-anchor", "middle").attr("font-family", FONT).attr("font-size", fs)
    .attr("font-weight", "bold").attr("fill", LABEL);
  writeTitle(xt, p.xTitle, fs);
  const yt = g.append("text")
    .attr("transform", `translate(${l + p.yTitleOff},${(t + b) / 2}) rotate(-90)`)
    .attr("text-anchor", "middle").attr("font-family", FONT).attr("font-size", fs)
    .attr("font-weight", "bold").attr("fill", LABEL);
  writeTitle(yt, p.yTitle, fs);
}

// top row
panels.slice(0, 3).forEach(drawPanel);
// bottom row sits on its own background band
svg.append("rect").attr("x", 0).attr("y", 824).attr("width", 2556).attr("height", 1642 - 824).attr("fill", BG);
panels.slice(3).forEach(drawPanel);
</script>
</body>
</html>
